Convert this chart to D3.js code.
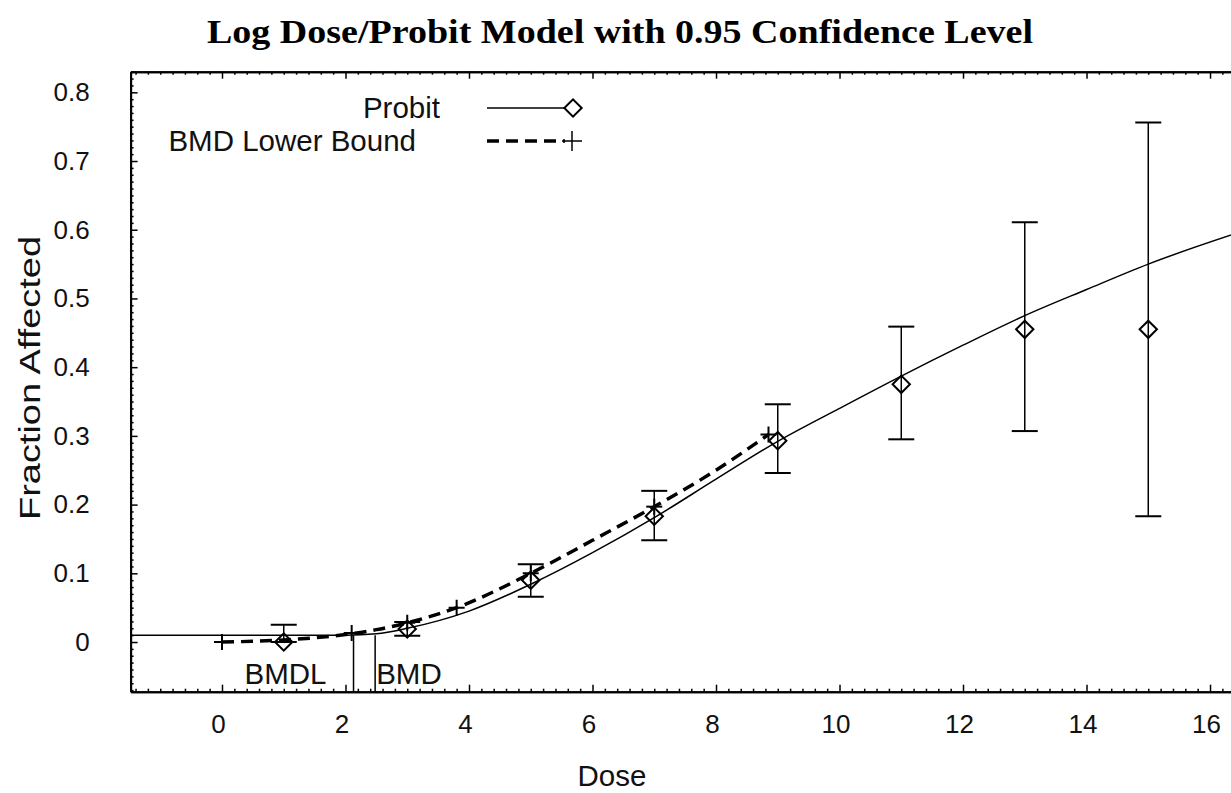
<!DOCTYPE html>
<html>
<head>
    <title>Log Dose/Probit</title>
    <script src="https://d3js.org/d3.v7.min.js"></script>
    <style type="text/css">
        body { margin: 0; background: #ffffff; }
        svg { background: #ffffff; }
        .tick text { font-family: "Liberation Sans", Arial, sans-serif; font-size: 26px; fill: #111; }
        .lbl { font-family: "Liberation Sans", Arial, sans-serif; font-size: 29.5px; fill: #111; }
        .title { font-family: "Liberation Serif", "Times New Roman", serif; font-weight: bold; font-size: 34px; fill: #000; }
    </style>
</head>
<body>
<div id="chart"></div>
<script>
// observed data (fraction affected) with 95% error bars
var doses = [1, 3, 5, 7, 9, 11, 13, 15]
var observed = [0.0, 0.019, 0.090, 0.183, 0.293, 0.375, 0.455, 0.455]
var lowerCI = [0.0, 0.009, 0.066, 0.148, 0.246, 0.295, 0.307, 0.183]
var upperCI = [0.025, 0.029, 0.113, 0.220, 0.346, 0.459, 0.611, 0.756]

// fitted probit curve
var probitDose = [-1.48, 0, 1, 2, 2.5, 3, 4, 5, 6, 7, 8, 9, 10, 11, 12, 13, 14, 15, 16.5]
var probitFrac = [0.010, 0.010, 0.010, 0.010, 0.012, 0.020, 0.045, 0.084, 0.130, 0.181, 0.237, 0.292, 0.340, 0.387, 0.432, 0.475, 0.513, 0.550, 0.597]

// BMD lower bound curve
var lowerDose = [0, 1, 2, 2.5, 3, 3.8, 5, 6, 7, 8, 8.85]
var lowerFrac = [0.0, 0.003, 0.011, 0.018, 0.028, 0.050, 0.100, 0.148, 0.197, 0.250, 0.302]
var markDose = [0, 2.1, 3.0, 3.8, 5.0, 7.0, 8.85]
var markFrac = [0.0, 0.013, 0.028, 0.050, 0.100, 0.197, 0.302]

var bmdl = 2.13, bmd = 2.48
var xTicks = [0, 2, 4, 6, 8, 10, 12, 14, 16]
var yTicks = [0, 0.1, 0.2, 0.3, 0.4, 0.5, 0.6, 0.7, 0.8]

var width = 1231, height = 793
var plot = {left: 130.6, right: 1240.9, top: 71.7, bottom: 691.7}

var svg = d3.select("#chart")
    .append("svg")
    .attr("width", width)
    .attr("height", height)

var x = d3.scaleLinear().domain([-1.48, 16.5]).range([plot.left, plot.right])
var y = d3.scaleLinear().domain([-0.0723, 0.830]).range([plot.bottom, plot.top])

svg.append("clipPath").attr("id", "clip")
    .append("rect")
    .attr("x", plot.left).attr("y", plot.top)
    .attr("width", plot.right - plot.left).attr("height", plot.bottom - plot.top)

var xMinor = d3.range(-7, 83).map(function(i){ return i / 5 }).filter(function(v){ return Math.round(v * 5) % 10 != 0 })
var yMinor = d3.range(-7, 84).map(function(i){ return i / 100 }).filter(function(v){ return Math.round(v * 100) % 10 != 0 })

function styleAxis(g) {
    g.selectAll("path.domain").attr("stroke", "#000").attr("stroke-width", 2)
    g.selectAll(".tick line").attr("stroke", "#000").attr("stroke-width", 1.5)
}

// minor ticks
svg.append("g").attr("transform", "translate(0," + plot.bottom + ")")
    .call(d3.axisBottom(x).tickValues(xMinor).tickSize(-3).tickSizeOuter(0).tickFormat(""))
    .call(styleAxis)
svg.append("g").attr("transform", "translate(0," + plot.top + ")")
    .call(d3.axisTop(x).tickValues(xMinor).tickSize(-3).tickSizeOuter(0).tickFormat(""))
    .call(styleAxis)
svg.append("g").attr("transform", "translate(" + plot.left + ",0)")
    .call(d3.axisLeft(y).tickValues(yMinor).tickSize(-3).tickSizeOuter(0).tickFormat(""))
    .call(styleAxis)

// major ticks + labels
svg.append("g").attr("transform", "translate(0," + plot.bottom + ")")
    .call(d3.axisBottom(x).tickValues(xTicks).tickSize(-7).tickSizeOuter(0).tickPadding(23).tickFormat(d3.format("d")))
    .call(styleAxis)
    .call(function(g){ g.selectAll(".tick text").attr("dx", -4) })
svg.append("g").attr("transform", "translate(0," + plot.top + ")")
    .call(d3.axisTop(x).tickValues(xTicks).tickSize(-7).tickSizeOuter(0).tickFormat(""))
    .call(styleAxis)
svg.append("g").attr("transform", "translate(" + plot.left + ",0)")
    .call(d3.axisLeft(y).tickValues(yTicks).tickSize(-7).tickSizeOuter(0).tickPadding(41)
        .tickFormat(function(d){ return d == 0 ? "0" : d3.format(".1f")(d) }))
    .call(styleAxis)

// titles
svg.append("text").attr("class", "title")
    .attr("x", 620).attr("y", 43)
    .attr("text-anchor", "middle")
    .attr("textLength", 826).attr("lengthAdjust", "spacingAndGlyphs")
    .text("Log Dose/Probit Model with 0.95 Confidence Level")
svg.append("text").attr("class", "lbl")
    .attr("x", 612).attr("y", 786)
    .attr("text-anchor", "middle")
    .text("Dose")
svg.append("text").attr("class", "lbl")
    .attr("transform", "translate(40,378) rotate(-90)")
    .attr("text-anchor", "middle")
    .attr("textLength", 284).attr("lengthAdjust", "spacingAndGlyphs")
    .text("Fraction Affected")

var plotG = svg.append("g").attr("clip-path", "url(#clip)")

var line = d3.line()
    .x(function(d){ return x(d[0]) })
    .y(function(d){ return y(d[1]) })
    .curve(d3.curveMonotoneX)

plotG.append("path")
    .datum(d3.zip(probitDose, probitFrac))
    .attr("d", line)
    .attr("fill", "none").attr("stroke", "#000").attr("stroke-width", 1.5)

plotG.append("path")
    .datum(d3.zip(lowerDose, lowerFrac))
    .attr("d", line)
    .attr("fill", "none").attr("stroke", "#000").attr("stroke-width", 3.5)
    .attr("stroke-dasharray", "12,7")

// + markers on lower bound
var plus = plotG.selectAll(".plus")
    .data(d3.zip(markDose, markFrac))
    .enter().append("g")
    .attr("class", "plus")
    .attr("transform", function(d){ return "translate(" + x(d[0]) + "," + y(d[1]) + ")" })
plus.append("line").attr("x1", -8).attr("x2", 8).attr("stroke", "#000").attr("stroke-width", 2)
plus.append("line").attr("y1", -8).attr("y2", 8).attr("stroke", "#000").attr("stroke-width", 2)

// error bars
var bars = plotG.selectAll(".bar")
    .data(doses.map(function(d, i){ return {d: d, o: observed[i], lo: lowerCI[i], hi: upperCI[i]} }))
    .enter().append("g").attr("class", "bar")
bars.append("line")
    .attr("x1", function(d){ return x(d.d) }).attr("x2", function(d){ return x(d.d) })
    .attr("y1", function(d){ return y(d.lo) }).attr("y2", function(d){ return y(d.hi) })
    .attr("stroke", "#000").attr("stroke-width", 1.5)
bars.append("line")
    .attr("x1", function(d){ return x(d.d) - 13 }).attr("x2", function(d){ return x(d.d) + 13 })
    .attr("y1", function(d){ return y(d.hi) }).attr("y2", function(d){ return y(d.hi) })
    .attr("stroke", "#000").attr("stroke-width", 2)
bars.append("line")
    .attr("x1", function(d){ return x(d.d) - 13 }).attr("x2", function(d){ return x(d.d) + 13 })
    .attr("y1", function(d){ return y(d.lo) }).attr("y2", function(d){ return y(d.lo) })
    .attr("stroke", "#000").attr("stroke-width", 2)

var diamond = d3.symbol().type(d3.symbolSquare).size(150)
bars.append("path")
    .attr("d", diamond)
    .attr("transform", function(d){ return "translate(" + x(d.d) + "," + y(d.o) + ") rotate(45)" })
    .attr("fill", "none").attr("stroke", "#000").attr("stroke-width", 2)

// BMDL / BMD markers
var bmdG = svg.append("g")
bmdG.selectAll("line")
    .data([bmdl, bmd])
    .enter().append("line")
    .attr("x1", function(d){ return x(d) }).attr("x2", function(d){ return x(d) })
    .attr("y1", plot.bottom).attr("y2", y(0.010))
    .attr("stroke", "#000").attr("stroke-width", 1.5)
bmdG.append("text").attr("class", "lbl")
    .attr("x", x(bmdl) - 27).attr("y", 684)
    .attr("text-anchor", "end")
    .text("BMDL")
bmdG.append("text").attr("class", "lbl")
    .attr("x", x(bmd) + 1).attr("y", 684)
    .text("BMD")

// legend
var legend = svg.append("g")
legend.append("text").attr("class", "lbl")
    .attr("x", 440).attr("y", 118).attr("text-anchor", "end")
    .text("Probit")
legend.append("line")
    .attr("x1", 487).attr("x2", 565).attr("y1", 108).attr("y2", 108)
    .attr("stroke", "#000").attr("stroke-width", 1.5)
legend.append("path")
    .attr("d", diamond)
    .attr("transform", "translate(573,108) rotate(45)")
    .attr("fill", "#fff").attr("stroke", "#000").attr("stroke-width", 2)
legend.append("text").attr("class", "lbl")
    .attr("x", 416).attr("y", 151).attr("text-anchor", "end")
    .text("BMD Lower Bound")
legend.append("line")
    .attr("x1", 487).attr("x2", 565).attr("y1", 141).attr("y2", 141)
    .attr("stroke", "#000").attr("stroke-width", 3.5)
    .attr("stroke-dasharray", "12,7")
var lp = legend.append("g").attr("transform", "translate(572,141)")
lp.append("line").attr("x1", -10).attr("x2", 10).attr("stroke", "#000").attr("stroke-width", 1.5)
lp.append("line").attr("y1", -10).attr("y2", 10).attr("stroke", "#000").attr("stroke-width", 1.5)
</script>
</body>
</html>
